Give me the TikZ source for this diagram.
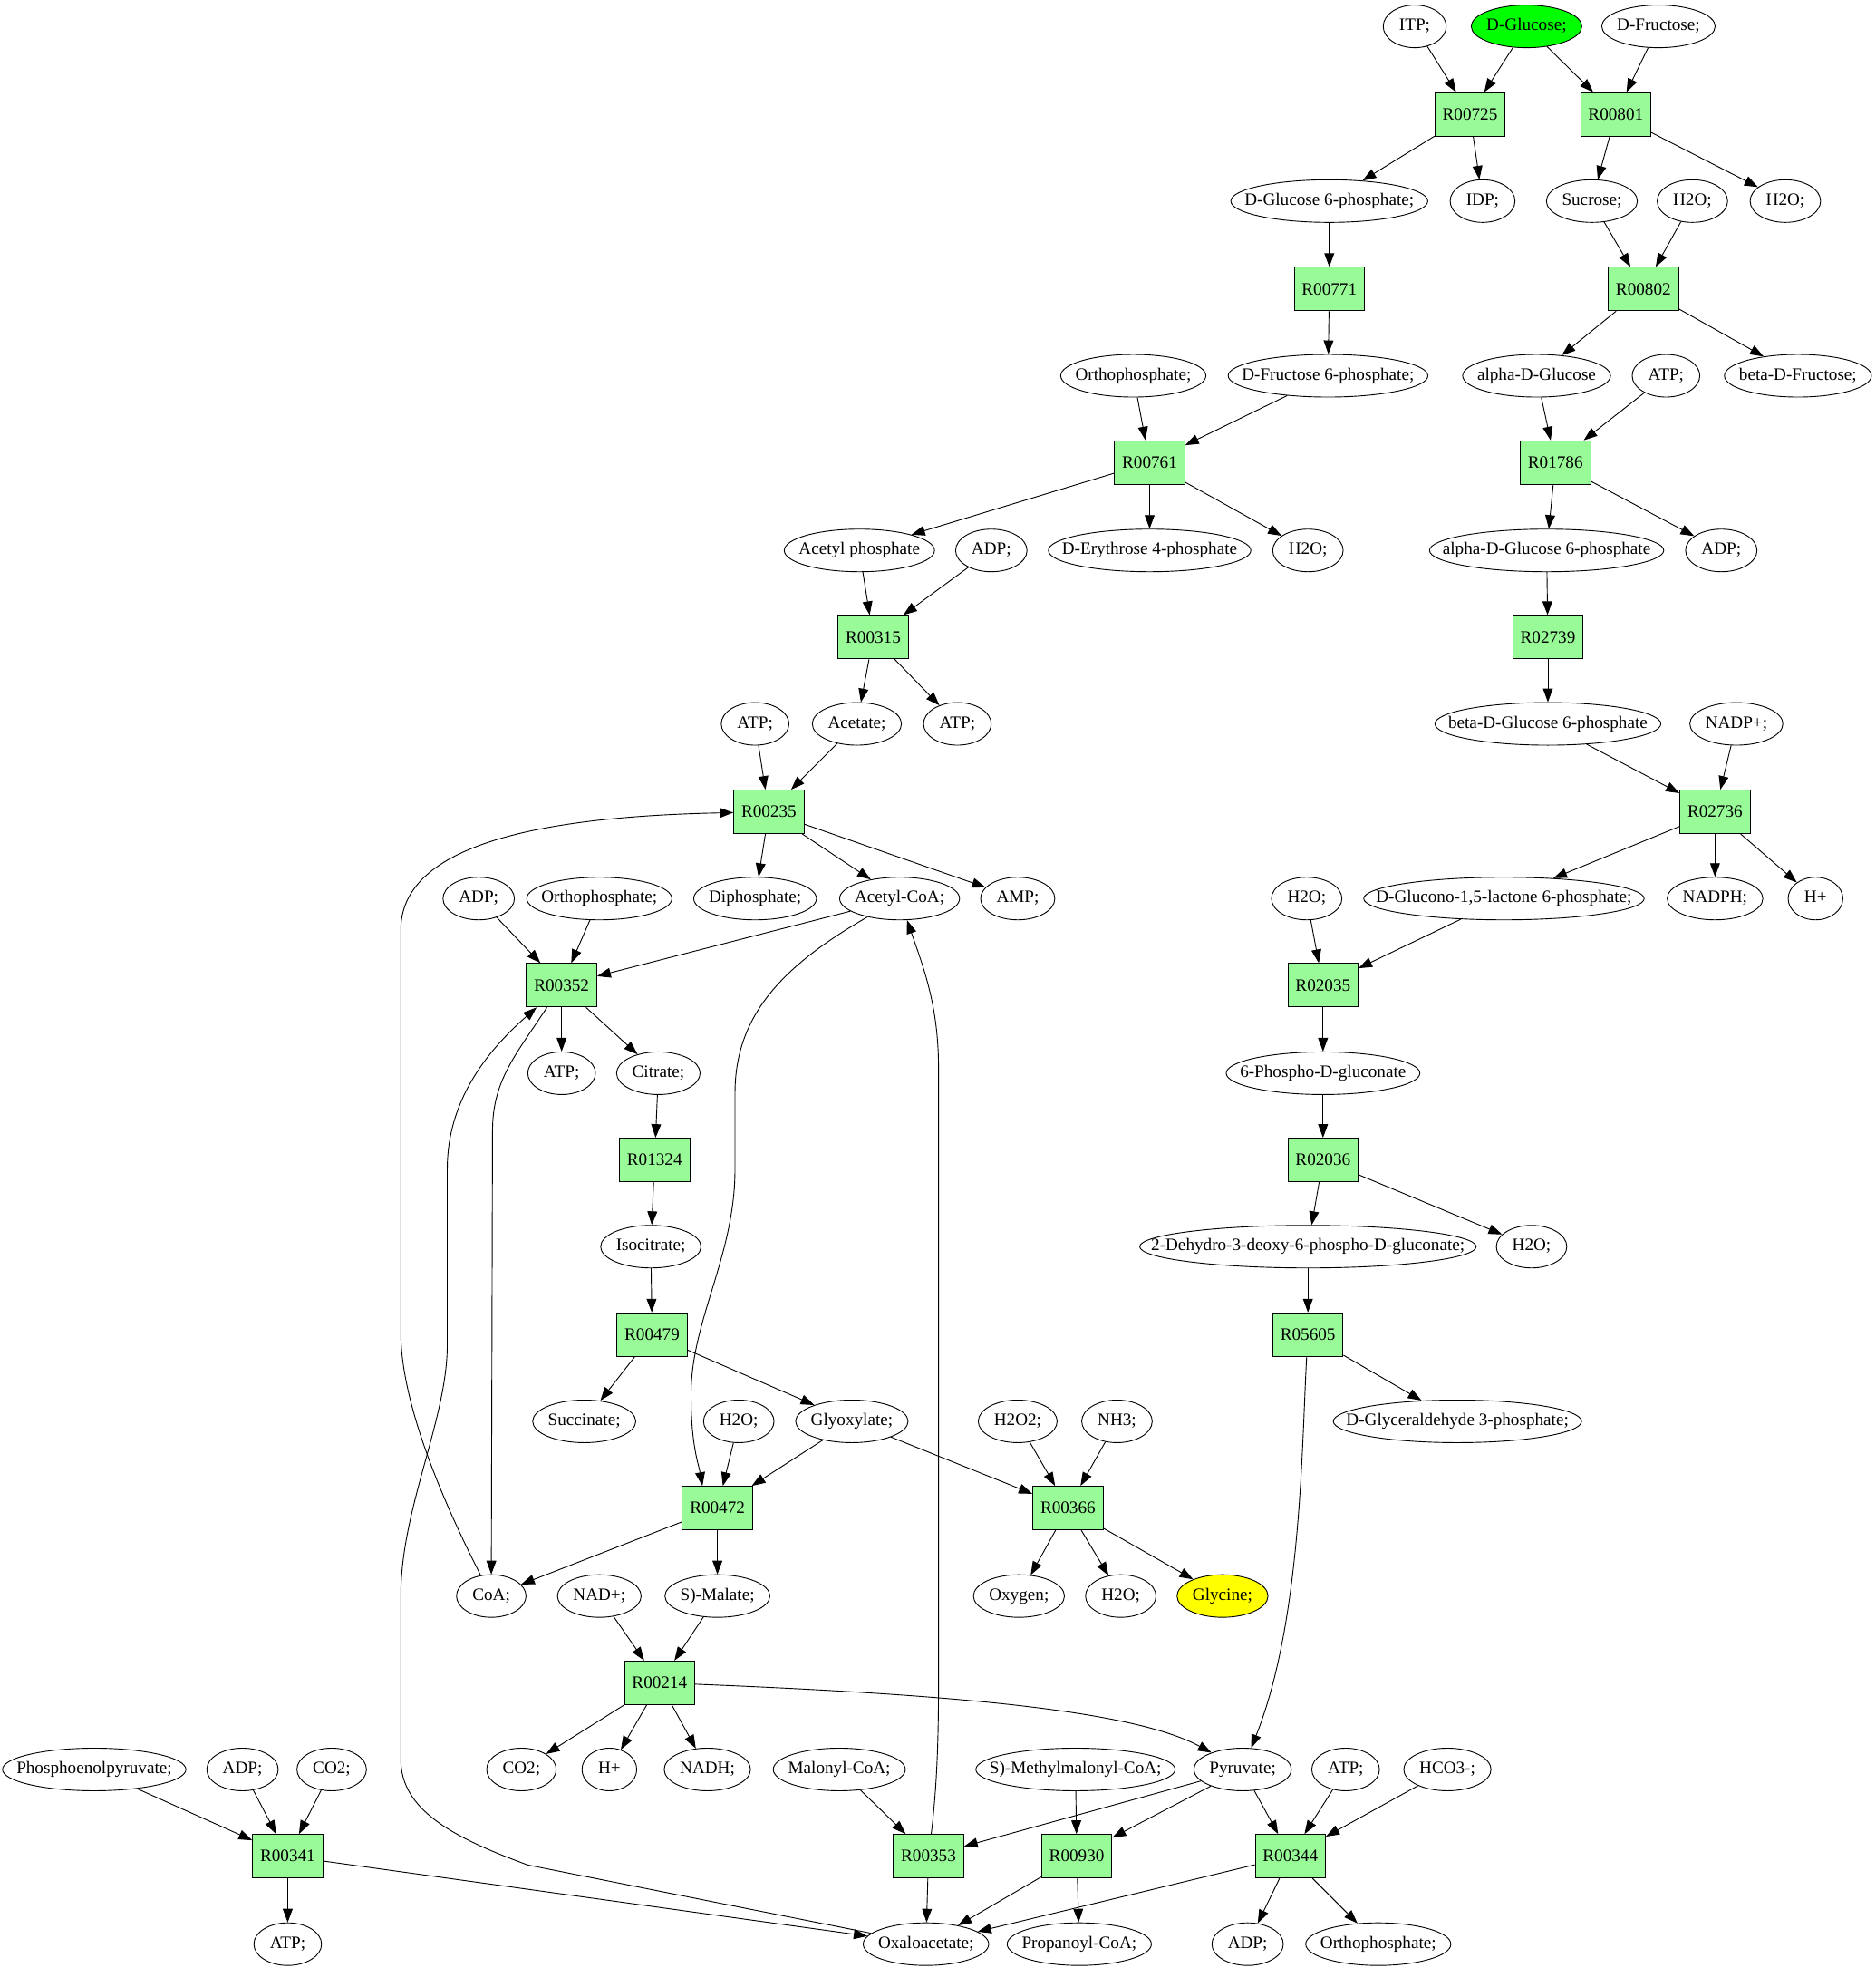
\documentclass[tikz,border=0pt]{standalone}
\usepackage{fontspec}
\setmainfont{Liberation Serif}
\usetikzlibrary{arrows.meta,shapes.geometric}
\definecolor{rxngreen}{HTML}{98FB98}
\definecolor{glcgreen}{HTML}{00FF00}
\definecolor{glyyellow}{HTML}{FFFF00}
\newsavebox{\metbox}
\begin{document}
\begin{tikzpicture}[x=0.8317pt,y=-0.8317pt,line width=0.55pt,
    >={Triangle[length=9pt,width=6.5pt]},
    every node/.style={font=\fontsize{11.5}{13}\selectfont},
    met/.style={ellipse,draw,inner xsep=7.75pt,inner ysep=0pt,minimum height=28.2pt,
        text height=8pt,text depth=2.5pt,
        execute at begin node={\setbox\metbox=\hbox\bgroup},
        execute at end node={\egroup\hbox to 0.684\wd\metbox{\hss\box\metbox\hss}}},
    rxn/.style={rectangle,draw,fill=rxngreen,minimum width=46.5pt,minimum height=28.8pt,inner sep=1pt}]
        \useasboundingbox (0,0) rectangle (1493,1566);

        \node[met] (itp) at (1126,21) {ITP;};
        \node[met,fill=glcgreen] (glc) at (1215,21) {D-Glucose;};
        \node[met] (fru) at (1320,21) {D-Fructose;};
        \node[rxn] (r00725) at (1170,91) {R00725};
        \node[rxn] (r00801) at (1286,91) {R00801};
        \node[met] (g6p) at (1058,160) {D-Glucose 6-phosphate;};
        \node[met] (idp) at (1180,160) {IDP;};
        \node[met] (suc) at (1267,160) {Sucrose;};
        \node[met] (h2oa) at (1347,160) {H2O;};
        \node[met] (h2ob) at (1421,160) {H2O;};
        \node[rxn] (r00771) at (1058,230) {R00771};
        \node[rxn] (r00802) at (1308,230) {R00802};
        \node[met] (pia) at (902,299) {Orthophosphate;};
        \node[met] (f6p) at (1057,299) {D-Fructose 6-phosphate;};
        \node[met] (aglc) at (1223,299) {alpha-D-Glucose};
        \node[met] (atpa) at (1326,299) {ATP;};
        \node[met] (bfru) at (1431,299) {beta-D-Fructose;};
        \node[rxn] (r00761) at (915,368) {R00761};
        \node[rxn] (r01786) at (1238,368) {R01786};
        \node[met] (acp) at (684,438) {Acetyl phosphate};
        \node[met] (adpa) at (789,438) {ADP;};
        \node[met] (e4p) at (915,438) {D-Erythrose 4-phosphate};
        \node[met] (h2oc) at (1041,438) {H2O;};
        \node[met] (ag6p) at (1231,438) {alpha-D-Glucose 6-phosphate};
        \node[met] (adpb) at (1370,438) {ADP;};
        \node[rxn] (r00315) at (695,507) {R00315};
        \node[rxn] (r02739) at (1232,507) {R02739};
        \node[met] (atpb) at (601,576) {ATP;};
        \node[met] (ace) at (682,576) {Acetate;};
        \node[met] (atpc) at (762,576) {ATP;};
        \node[met] (bg6p) at (1232,576) {beta-D-Glucose 6-phosphate};
        \node[met] (nadp) at (1382,576) {NADP+;};
        \node[rxn] (r00235) at (612,646) {R00235};
        \node[rxn] (r02736) at (1365,646) {R02736};
        \node[met] (adpc) at (381,715) {ADP;};
        \node[met] (pib) at (477,715) {Orthophosphate;};
        \node[met] (ppi) at (601,715) {Diphosphate;};
        \node[met] (acoa) at (716,715) {Acetyl-CoA;};
        \node[met] (amp) at (810,715) {AMP;};
        \node[met] (h2od) at (1040,715) {H2O;};
        \node[met] (glcl) at (1197,715) {D-Glucono-1,5-lactone 6-phosphate;};
        \node[met] (nadph) at (1365,715) {NADPH;};
        \node[met] (hpa) at (1445,715) {H+};
        \node[rxn] (r00352) at (447,784) {R00352};
        \node[rxn] (r02035) at (1053,784) {R02035};
        \node[met] (atpd) at (447,854) {ATP;};
        \node[met] (cit) at (524,854) {Citrate;};
        \node[met] (pgl) at (1053,854) {6-Phospho-D-gluconate};
        \node[rxn] (r01324) at (521,923) {R01324};
        \node[rxn] (r02036) at (1053,923) {R02036};
        \node[met] (icit) at (518,992) {Isocitrate;};
        \node[met] (kdpg) at (1041,992) {2-Dehydro-3-deoxy-6-phospho-D-gluconate;};
        \node[met] (h2oe) at (1219,992) {H2O;};
        \node[rxn] (r00479) at (519,1062) {R00479};
        \node[rxn] (r05605) at (1041,1062) {R05605};
        \node[met] (succ) at (465,1131) {Succinate;};
        \node[met] (h2of) at (588,1131) {H2O;};
        \node[met] (glx) at (678,1131) {Glyoxylate;};
        \node[met] (h2o2) at (810,1131) {H2O2;};
        \node[met] (nh3) at (889,1131) {NH3;};
        \node[met] (gap) at (1160,1131) {D-Glyceraldehyde 3-phosphate;};
        \node[rxn] (r00472) at (571,1200) {R00472};
        \node[rxn] (r00366) at (850,1200) {R00366};
        \node[met] (coa) at (391,1270) {CoA;};
        \node[met] (nad) at (477,1270) {NAD+;};
        \node[met] (mal) at (571,1270) {S)-Malate;};
        \node[met] (oxy) at (811,1270) {Oxygen;};
        \node[met] (h2og) at (892,1270) {H2O;};
        \node[met,fill=glyyellow] (gly) at (973,1270) {Glycine;};
        \node[rxn] (r00214) at (525,1339) {R00214};
        \node[met] (pep) at (75,1408) {Phosphoenolpyruvate;};
        \node[met] (adpd) at (193,1408) {ADP;};
        \node[met] (co2a) at (264,1408) {CO2;};
        \node[met] (co2b) at (415,1408) {CO2;};
        \node[met] (hpb) at (485,1408) {H+};
        \node[met] (nadh) at (563,1408) {NADH;};
        \node[met] (mcoa) at (668,1408) {Malonyl-CoA;};
        \node[met] (mmcoa) at (856,1408) {S)-Methylmalonyl-CoA;};
        \node[met] (pyr) at (989,1408) {Pyruvate;};
        \node[met] (atpe) at (1071,1408) {ATP;};
        \node[met] (hco3) at (1152,1408) {HCO3-;};
        \node[rxn] (r00341) at (229,1477) {R00341};
        \node[rxn] (r00353) at (739,1477) {R00353};
        \node[rxn] (r00930) at (857,1477) {R00930};
        \node[rxn] (r00344) at (1027,1477) {R00344};
        \node[met] (atpf) at (229,1547) {ATP;};
        \node[met] (oaa) at (737,1547) {Oxaloacetate;};
        \node[met] (pcoa) at (859,1547) {Propanoyl-CoA;};
        \node[met] (adpe) at (993,1547) {ADP;};
        \node[met] (pic) at (1097,1547) {Orthophosphate;};

        \draw[->] (itp) -- (r00725);
        \draw[->] (glc) -- (r00725);
        \draw[->] (glc) -- (r00801);
        \draw[->] (fru) -- (r00801);
        \draw[->] (r00725) -- (g6p);
        \draw[->] (r00725) -- (idp);
        \draw[->] (r00801) -- (suc);
        \draw[->] (r00801) -- (h2ob);
        \draw[->] (suc) -- (r00802);
        \draw[->] (h2oa) -- (r00802);
        \draw[->] (g6p) -- (r00771);
        \draw[->] (r00771) -- (f6p);
        \draw[->] (r00802) -- (aglc);
        \draw[->] (r00802) -- (bfru);
        \draw[->] (pia) -- (r00761);
        \draw[->] (f6p) -- (r00761);
        \draw[->] (aglc) -- (r01786);
        \draw[->] (atpa) -- (r01786);
        \draw[->] (r00761) -- (acp);
        \draw[->] (r00761) -- (e4p);
        \draw[->] (r00761) -- (h2oc);
        \draw[->] (r01786) -- (ag6p);
        \draw[->] (r01786) -- (adpb);
        \draw[->] (acp) -- (r00315);
        \draw[->] (adpa) -- (r00315);
        \draw[->] (ag6p) -- (r02739);
        \draw[->] (r00315) -- (ace);
        \draw[->] (r00315) -- (atpc);
        \draw[->] (r02739) -- (bg6p);
        \draw[->] (atpb) -- (r00235);
        \draw[->] (ace) -- (r00235);
        \draw[->] (bg6p) -- (r02736);
        \draw[->] (nadp) -- (r02736);
        \draw[->] (r00235) -- (ppi);
        \draw[->] (r00235) -- (acoa);
        \draw[->] (r00235) -- (amp);
        \draw[->] (r02736) -- (glcl);
        \draw[->] (r02736) -- (nadph);
        \draw[->] (r02736) -- (hpa);
        \draw[->] (adpc) -- (r00352);
        \draw[->] (pib) -- (r00352);
        \draw[->] (acoa) -- (r00352);
        \draw[->] (h2od) -- (r02035);
        \draw[->] (glcl) -- (r02035);
        \draw[->] (r00352) -- (atpd);
        \draw[->] (r00352) -- (cit);
        \draw[->] (r02035) -- (pgl);
        \draw[->] (cit) -- (r01324);
        \draw[->] (pgl) -- (r02036);
        \draw[->] (r01324) -- (icit);
        \draw[->] (r02036) -- (kdpg);
        \draw[->] (r02036) -- (h2oe);
        \draw[->] (icit) -- (r00479);
        \draw[->] (kdpg) -- (r05605);
        \draw[->] (r00479) -- (succ);
        \draw[->] (r00479) -- (glx);
        \draw[->] (r05605) -- (gap);
        \draw[->] (h2of) -- (r00472);
        \draw[->] (glx) -- (r00472);
        \draw[->] (glx) -- (r00366);
        \draw[->] (h2o2) -- (r00366);
        \draw[->] (nh3) -- (r00366);
        \draw[->] (r00472) -- (coa);
        \draw[->] (r00472) -- (mal);
        \draw[->] (r00366) -- (oxy);
        \draw[->] (r00366) -- (h2og);
        \draw[->] (r00366) -- (gly);
        \draw[->] (nad) -- (r00214);
        \draw[->] (mal) -- (r00214);
        \draw[->] (r00214) -- (co2b);
        \draw[->] (r00214) -- (hpb);
        \draw[->] (r00214) -- (nadh);
        \draw[->] (pep) -- (r00341);
        \draw[->] (adpd) -- (r00341);
        \draw[->] (co2a) -- (r00341);
        \draw[->] (mcoa) -- (r00353);
        \draw[->] (pyr) -- (r00353);
        \draw[->] (mmcoa) -- (r00930);
        \draw[->] (pyr) -- (r00930);
        \draw[->] (pyr) -- (r00344);
        \draw[->] (atpe) -- (r00344);
        \draw[->] (hco3) -- (r00344);
        \draw[->] (r00341) -- (atpf);
        \draw[->] (r00341) -- (oaa);
        \draw[->] (r00353) -- (oaa);
        \draw[->] (r00930) -- (oaa);
        \draw[->] (r00930) -- (pcoa);
        \draw[->] (r00344) -- (oaa);
        \draw[->] (r00344) -- (adpe);
        \draw[->] (r00344) -- (pic);

        % long curved edges
        \draw[->] (coa) .. controls (345,1180) and (319,1110) .. (319,1060) -- (319,740) .. controls (319,675) and (420,650) .. (r00235);
        \draw[->] (r00352) .. controls (410,840) and (392,860) .. (392,900) -- (coa);
        \draw[->] (oaa) -- (420,1484) .. controls (360,1462) and (319,1440) .. (319,1400) -- (319,1270) .. controls (319,1200) and (356,1130) .. (356,1070) -- (356,930) .. controls (356,870) and (395,830) .. (r00352);
        \draw[->] (acoa) .. controls (620,770) and (585,810) .. (585,870) -- (585,930) .. controls (585,1000) and (550,1050) .. (550,1110) .. controls (550,1150) and (556,1165) .. (r00472.124);
        \draw[->] (r00353) .. controls (746,1420) and (747,1380) .. (747,1340) -- (747,850) .. controls (747,800) and (735,770) .. (acoa);
        \draw[->] (r05605) .. controls (1036,1150) and (1036,1290) .. (pyr);
        \draw[->] (r00214) .. controls (750,1348) and (900,1360) .. (pyr);
\end{tikzpicture}
\end{document}
